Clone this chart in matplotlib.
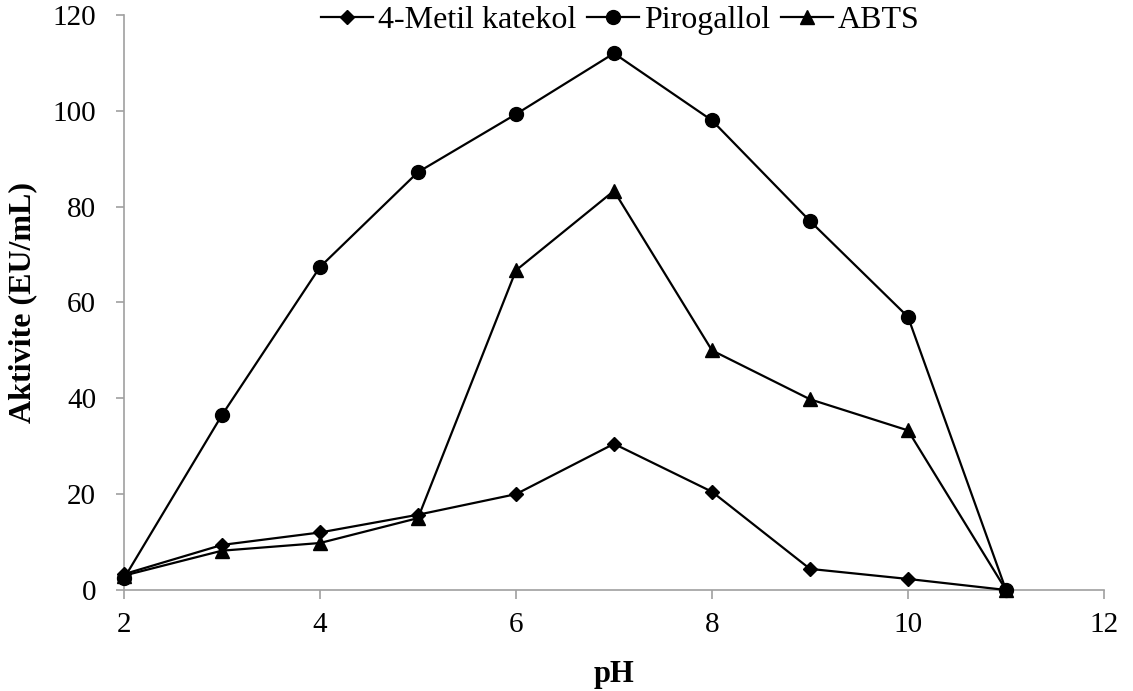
import matplotlib
matplotlib.use("Agg")
import matplotlib.pyplot as plt

ph = [2, 3, 4, 5, 6, 7, 8, 9, 10, 11]
metil_katekol = [3.3, 9.4, 12.0, 15.7, 20.0, 30.5, 20.5, 4.4, 2.3, 0.0]
pirogallol = [2.4, 36.5, 67.4, 87.2, 99.3, 112.0, 98.0, 77.0, 57.0, 0.0]
abts = [3.0, 8.2, 9.8, 15.0, 66.7, 83.3, 50.0, 39.8, 33.3, 0.0]

x_ticks = [2, 4, 6, 8, 10, 12]
y_ticks = [0, 20, 40, 60, 80, 100, 120]

plt.rcParams['font.family'] = ['Liberation Serif', 'DejaVu Serif']

fig = plt.figure(figsize=(11.33, 6.91), dpi=100)
ax = fig.add_axes([0.1094, 0.1462, 0.8650, 0.8321])

lw = 1.6
ax.plot(ph, metil_katekol, color='black', lw=lw, marker='D', markersize=7,
        label='4-Metil katekol', clip_on=False, zorder=3)
ax.plot(ph, pirogallol, color='black', lw=lw, marker='o', markersize=10,
        label='Pirogallol', clip_on=False, zorder=3)
ax.plot(ph, abts, color='black', lw=lw, marker='^', markersize=10,
        label='ABTS', clip_on=False, zorder=3)

ax.set_xlim(2, 12)
ax.set_ylim(0, 120)
ax.set_xticks(x_ticks)
ax.set_yticks(y_ticks)

for side in ['top', 'right']:
    ax.spines[side].set_visible(False)
for side in ['left', 'bottom']:
    ax.spines[side].set_color('#a0a0a0')
    ax.spines[side].set_linewidth(1.2)
ax.tick_params(axis='both', colors='#a0a0a0', labelcolor='black',
               labelsize=21, width=1.2, direction='out')
ax.tick_params(axis='y', length=6, pad=14)
ax.tick_params(axis='x', length=6.5, pad=9)

ax.set_xlabel('pH', fontsize=22, fontweight='bold', labelpad=16)
ax.set_ylabel('Aktivite (EU/mL)', fontsize=23, fontweight='bold', labelpad=11)

fig.legend(*ax.get_legend_handles_labels(), loc='center',
           bbox_to_anchor=(0.5475, 0.971), ncol=3, frameon=False, fontsize=23,
           handlelength=1.63, handletextpad=0.15, columnspacing=0.35,
           borderpad=0.0)

fig.savefig('out.png', dpi=100)
